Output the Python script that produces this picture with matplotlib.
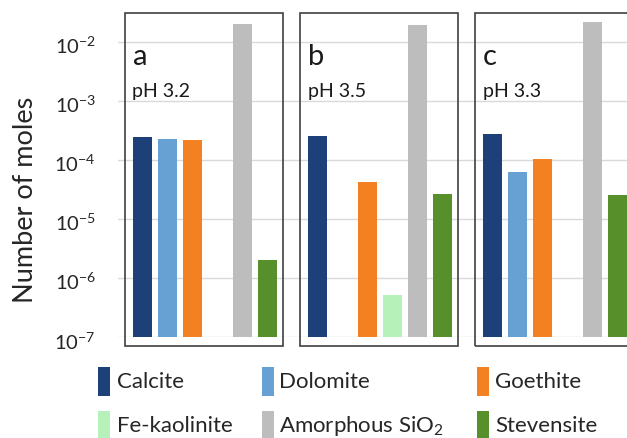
import numpy as np
import matplotlib
matplotlib.use("Agg")
import matplotlib.pyplot as plt
import matplotlib.transforms as mtransforms
from matplotlib.patches import Rectangle

plt.rcParams['font.family'] = ['Lato', 'DejaVu Sans']
plt.rcParams['mathtext.fontset'] = 'custom'
plt.rcParams['mathtext.rm'] = 'Lato'
plt.rcParams['mathtext.it'] = 'Lato:italic'
plt.rcParams['mathtext.bf'] = 'Lato:bold'

minerals = ['Calcite', 'Dolomite', 'Goethite', 'Fe-kaolinite',
            'Amorphous SiO$_2$', 'Stevensite']
colors = ['#1c4077', '#67a0d3', '#f38121', '#b5f1b8', '#bdbdbd', '#578f2b']

panel_letters = ['a', 'b', 'c']
ph_labels = ['pH 3.2', 'pH 3.5', 'pH 3.3']

# moles of each phase per experiment (nan = not formed)
moles_a = [2.42e-4, 2.26e-4, 2.15e-4, np.nan, 2.0e-2, 2.0e-6]
moles_b = [2.55e-4, np.nan, 4.3e-5, 5.2e-7, 1.95e-2, 2.63e-5]
moles_c = [2.79e-4, 6.3e-5, 1.03e-4, np.nan, 2.2e-2, 2.53e-5]
all_moles = [moles_a, moles_b, moles_c]

W, H = 627, 438
fig = plt.figure(figsize=(W / 100, H / 100), dpi=100)
fig.patch.set_facecolor('white')

# plot area in pixel units of the figure
ax_left, ax_bottom = 118, 337.3
ax = fig.add_axes([ax_left / W, 1 - ax_bottom / H, (W - ax_left) / W, ax_bottom / H])
ax.set_facecolor('none')

group_step = 7
for g, moles in enumerate(all_moles):
    x = np.arange(len(minerals)) + g * group_step
    ax.bar(x, moles, width=0.78, color=colors, zorder=2)

ax.set_yscale('log')
ax.set_ylim(1e-7, 10 ** -1.293)
ax.set_xlim(-0.97, 19.39)
ax.set_yticks([1e-7, 1e-6, 1e-5, 1e-4, 1e-3, 1e-2])
ax.minorticks_off()
ax.yaxis.grid(True, color='#d9d9d9', linewidth=1.0, zorder=0)
ax.set_axisbelow(True)
ax.tick_params(axis='y', length=0, pad=16, labelsize=14.5, labelcolor='#262626')
# labels sit a little below their grid line
shift = mtransforms.ScaledTranslation(0, -3 / 100, fig.dpi_scale_trans)
for lab in ax.get_yticklabels():
    lab.set_transform(lab.get_transform() + shift)
ax.set_xticks([])
for s in ax.spines.values():
    s.set_visible(False)

# frame around each experiment, slightly larger than the plot area
trans = mtransforms.blended_transform_factory(ax.transData, ax.transAxes)
for g in range(3):
    x0 = g * group_step - 0.69
    ax.add_patch(Rectangle((x0, -0.026), 6.32, 0.988, transform=trans,
                           fill=False, edgecolor='#404040', linewidth=1.2,
                           clip_on=False, zorder=3))
    ax.text(x0 + 0.30, 0.807, panel_letters[g], transform=trans,
            fontsize=21, color='#1a1a1a', va='baseline', ha='left')
    ax.text(x0 + 0.30, 0.712, ph_labels[g], transform=trans,
            fontsize=14, color='#1a1a1a', va='baseline', ha='left')

fig.text(26 / W, 1 - 200 / H, 'Number of moles', rotation=90,
         fontsize=19.5, color='#262626', ha='center', va='center')

# legend, 2 rows x 3 columns
patch_x = [98, 262, 477]
text_x = [117, 279, 495]
row_top = [367, 411]
row_base = [388, 432]
for i, (name, c) in enumerate(zip(minerals, colors)):
    r, col = divmod(i, 3)
    fig.patches.append(Rectangle((patch_x[col] / W, 1 - (row_top[r] + 29) / H),
                                 12 / W, 29 / H, transform=fig.transFigure,
                                 facecolor=c, edgecolor='none'))
    fig.text(text_x[col] / W, 1 - row_base[r] / H, name, fontsize=16,
             color='#262626', ha='left', va='baseline')

fig.savefig('out.png', dpi=100)
